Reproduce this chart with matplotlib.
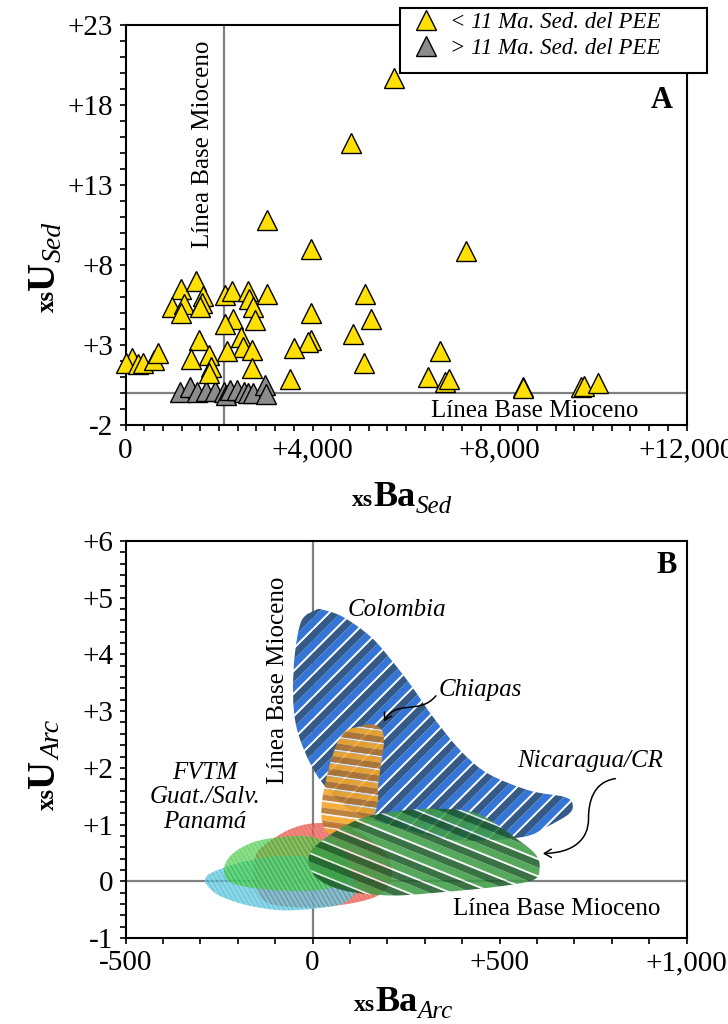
import numpy as np
import matplotlib
matplotlib.use('Agg')
import matplotlib.pyplot as plt
from matplotlib.path import Path
from matplotlib.patches import PathPatch, FancyArrowPatch, Rectangle
from matplotlib.collections import PolyCollection
from matplotlib.lines import Line2D
from matplotlib.transforms import IdentityTransform

plt.rcParams['font.family'] = ['Liberation Serif', 'DejaVu Serif']

W, H = 728, 1024

# --- Panel A: excess Ba / U in sediments ---
young_ba = [5740, 4820, 3030, 3970, 7280, 5120, 3020, 3960, 5260, 4870, 3960, 3910,
            3600, 5100, 3520, 6720, 6460, 6840, 6910, 8510, 8510, 9740, 9800, 10100,
            130, 0, 270, 380, 600, 700, 1190, 1510, 990, 1250, 1190, 1660, 1630, 1590,
            2130, 2270, 2610, 2650, 2720, 2310, 2130, 2760, 1570, 2470, 2520, 2700,
            2180, 1400, 1790, 1820, 1790, 2700]
young_u = [19.7, 15.6, 10.8, 9.0, 8.9, 6.2, 6.2, 5.0, 4.6, 3.7, 3.3, 3.2,
           2.8, 1.9, 0.9, 2.6, 1.0, 0.7, 0.85, 0.4, 0.3, 0.35, 0.45, 0.65,
           2.2, 1.9, 1.8, 1.9, 2.05, 2.5, 6.5, 7.0, 5.4, 5.55, 5.0, 6.05, 5.6, 5.4,
           6.1, 6.35, 6.35, 5.9, 5.4, 4.65, 4.3, 4.55, 3.3, 3.5, 2.85, 2.7,
           2.65, 2.1, 2.35, 1.6, 1.25, 1.55]
old_ba = [1170, 1390, 1520, 1720, 1910, 2110, 2160, 2240, 2380, 2530, 2630, 2730, 2980, 3000]
old_u = [0.08, 0.38, 0.08, 0.14, 0.14, 0.08, -0.13, 0.19, 0.19, 0.08, -0.02, -0.02, 0.52, -0.05]

baseline_ba_sed = 2100
baseline_u_sed = 0

# --- Panel B: arc fields (outline points, xsBa / xsU) ---
colombia_ba = [8, -29, -47, -52, -43, -10, 36, 119, 257, 395, 561, 626, 686, 695, 672,
               580, 469, 395, 322, 266, 211, 156, 82, 26]
colombia_u = [4.78, 4.6, 4.02, 3.31, 2.72, 2.13, 1.66, 1.19, 0.9, 0.72, 0.78, 0.96, 1.19,
              1.37, 1.49, 1.6, 1.9, 2.31, 2.9, 3.43, 3.9, 4.31, 4.66, 4.79]
chiapas_ba = [119, 156, 183, 191, 185, 176, 174, 156, 100, 45, 25, 26, 36, 49, 68, 89]
chiapas_u = [2.72, 2.77, 2.69, 2.49, 2.13, 1.72, 1.37, 1.08, 0.9, 0.84, 1.08, 1.43, 1.78,
             2.13, 2.46, 2.65]
panama_ba = [-130, -66, -1, 73, 146, 202, 211, 183, 119, 26, -66, -130, -158, -153]
panama_u = [0.63, 0.9, 1.02, 0.99, 0.78, 0.43, 0.08, -0.22, -0.37, -0.45, -0.45, -0.34,
            0.02, 0.43]
fvtm_ba = [-287, -273, -204, -112, -20, 63, 109, 119, 82, 8, -84, -176, -250, -282]
fvtm_u = [0.02, 0.14, 0.31, 0.43, 0.43, 0.25, 0.05, -0.16, -0.39, -0.48, -0.51, -0.42,
          -0.25, -0.07]
guat_ba = [-236, -213, -158, -84, -1, 82, 100, 82, 8, -84, -176, -227]
guat_u = [0.25, 0.49, 0.69, 0.78, 0.78, 0.55, 0.25, -0.04, -0.16, -0.16, -0.1, 0.02]
nica_ba = [-10, 26, 119, 211, 322, 442, 552, 598, 607, 589, 488, 350, 211, 82, 8]
nica_u = [0.43, 0.72, 1.08, 1.22, 1.28, 1.19, 0.72, 0.46, 0.22, 0.02, -0.1, -0.19, -0.25,
          -0.16, 0.08]

baseline_ba_arc = 0
baseline_u_arc = 0


def sign_fmt(v):
    if v == 0:
        return '0'
    s = f'{abs(v):,.0f}'
    return '+' + s if v > 0 else '-' + s


def smooth_closed(xs, ys):
    # closed Catmull-Rom outline written as cubic Bezier segments
    pts = np.column_stack([xs, ys]).astype(float)
    n = len(pts)
    verts = [pts[0]]
    codes = [Path.MOVETO]
    for i in range(n):
        p0, p1, p2, p3 = pts[i - 1], pts[i], pts[(i + 1) % n], pts[(i + 2) % n]
        verts += [p1 + (p2 - p0) / 6, p2 - (p3 - p1) / 6, p2]
        codes += [Path.CURVE4] * 3
    verts.append(pts[0])
    codes.append(Path.CLOSEPOLY)
    return Path(verts, codes)


def striped_region(ax, xs, ys, angle, period, bands, alpha=1.0, z=2):
    path = smooth_closed(xs, ys)
    clip = PathPatch(path, fill=False, lw=0, transform=ax.transData)
    ax.add_patch(clip)
    pts = ax.transData.transform(path.vertices)
    a = np.deg2rad(angle)
    d = np.array([np.cos(a), np.sin(a)])
    nv = np.array([-np.sin(a), np.cos(a)])
    pn, pd = pts @ nv, pts @ d
    dl, dh = pd.min() - 20, pd.max() + 20
    for off, width, color in bands:
        polys = []
        for k in np.arange(pn.min() - period, pn.max() + period, period):
            lo, hi = k + off, k + off + width
            polys.append([d * dl + nv * lo, d * dh + nv * lo,
                          d * dh + nv * hi, d * dl + nv * hi])
        pc = PolyCollection(polys, facecolors=color, edgecolors='none',
                            transform=IdentityTransform(), alpha=alpha, zorder=z)
        pc.set_clip_path(clip)
        ax.add_collection(pc, autolim=False)


def chain_label(fig, x, y, parts, rotation=0):
    # parts: (text, size, weight, style, baseline drop in px); x, y in px from top-left
    r = fig.canvas.get_renderer()
    pos = 0.0
    for s, size, weight, style, drop in parts:
        if rotation:
            px, py = x + drop, y - pos
        else:
            px, py = x + pos, y + drop
        t = fig.text(px / W, 1 - py / H, s, fontsize=size, fontweight=weight,
                     fontstyle=style, ha='left', va='baseline', rotation=rotation,
                     rotation_mode='anchor')
        ext = t.get_window_extent(r)
        pos += ext.height if rotation else ext.width


def style_axes(ax):
    for sp in ax.spines.values():
        sp.set_linewidth(1.5)
    ax.tick_params(which='both', direction='out', length=4, width=1.2,
                   labelsize=21, pad=5)
    ax.tick_params(which='both', top=False, right=False)


fig = plt.figure(figsize=(W / 100, H / 100), dpi=100)

# ---------- Panel A ----------
ax1 = fig.add_axes([125.5 / W, 1 - 425 / H, 561 / W, 400 / H])
ax1.set_xlim(0, 12000)
ax1.set_ylim(-2, 23)
style_axes(ax1)
ax1.set_xticks([0, 4000, 8000, 12000])
ax1.set_xticklabels([sign_fmt(v) for v in [0, 4000, 8000, 12000]])
ax1.set_xticks(np.arange(0, 12001, 400), minor=True)
ax1.set_yticks([-2, 3, 8, 13, 18, 23])
ax1.set_yticklabels([sign_fmt(v) for v in [-2, 3, 8, 13, 18, 23]])
ax1.set_yticks(np.arange(-2, 24, 1), minor=True)

ax1.axvline(baseline_ba_sed, color='#808080', lw=1.6, zorder=1)
ax1.axhline(baseline_u_sed, color='#808080', lw=1.6, zorder=1)
ax1.plot(old_ba, old_u, ls='none', marker='^', ms=15, mfc='#8c8c8c', mec='black',
         mew=1, zorder=3, clip_on=False)
ax1.plot(young_ba, young_u, ls='none', marker='^', ms=15, mfc='#ffe000', mec='black',
         mew=1, zorder=4, clip_on=False)

ax1.text(1658, 15.56, 'Línea Base Mioceno', rotation=90, fontsize=18,
         ha='center', va='center')
ax1.text(8760, -1.1, 'Línea Base Mioceno', fontsize=18, ha='center', va='center')
ax1.text(11480, 18.3, 'A', fontsize=22, fontweight='bold', ha='center', va='center')

# legend frame is wider than its contents, so the box is drawn separately
ax1.add_patch(Rectangle((400 / W, 1 - 73 / H), 307 / W, 65 / H, transform=fig.transFigure,
                        facecolor='white', edgecolor='black', lw=1.5, clip_on=False,
                        zorder=4.9))
handles = [Line2D([], [], ls='none', marker='^', ms=15, mfc='#ffe000', mec='black', mew=1),
           Line2D([], [], ls='none', marker='^', ms=15, mfc='#8c8c8c', mec='black', mew=1)]
leg = ax1.legend(handles, ['< 11 Ma. Sed. del PEE', '> 11 Ma. Sed. del PEE'],
                 loc='upper left', bbox_to_anchor=(412 / W, 1 - 10 / H),
                 bbox_transform=fig.transFigure, frameon=False, borderaxespad=0,
                 prop={'family': 'Liberation Serif', 'style': 'italic', 'size': 16.5},
                 handlelength=1.0, handletextpad=0.55, borderpad=0.1,
                 labelspacing=0.2)
leg.set_zorder(5)

# ---------- Panel B ----------
ax2 = fig.add_axes([125.5 / W, 1 - 938 / H, 561 / W, 397 / H])
ax2.set_xlim(-500, 1000)
ax2.set_ylim(-1, 6)
style_axes(ax2)
ax2.set_xticks([-500, 0, 500, 1000])
ax2.set_xticklabels([sign_fmt(v) for v in [-500, 0, 500, 1000]])
ax2.set_xticks(np.arange(-500, 1001, 100), minor=True)
ax2.set_yticks(np.arange(-1, 7, 1))
ax2.set_yticklabels([sign_fmt(v) for v in range(-1, 7)])
ax2.set_yticks(np.arange(-1, 6.01, 0.2), minor=True)

ax2.axvline(baseline_ba_arc, color='#808080', lw=1.6, zorder=1)
ax2.axhline(baseline_u_arc, color='#808080', lw=1.6, zorder=1)

striped_region(ax2, colombia_ba, colombia_u, 45, 16.0,
               [(0, 7.2, '#365a88'), (7.2, 1.8, 'white'), (9.0, 7.0, '#3475d6')], z=2)
striped_region(ax2, panama_ba, panama_u, -60, 4.0,
               [(0, 2.8, '#f26b5e'), (2.8, 1.2, '#d24a40')], alpha=0.85, z=3)
striped_region(ax2, fvtm_ba, fvtm_u, -60, 4.0,
               [(0, 2.8, '#66cfe6'), (2.8, 1.2, '#3ea6c0')], alpha=0.8, z=4)
striped_region(ax2, guat_ba, guat_u, -60, 4.0,
               [(0, 2.8, '#52d852'), (2.8, 1.2, '#30b030')], alpha=0.72, z=5)
striped_region(ax2, chiapas_ba, chiapas_u, -8, 13.0,
               [(0, 5.8, '#f5a62a'), (5.8, 1.6, '#f4f0e8'), (7.4, 5.6, '#b8762c')],
               alpha=0.9, z=6)
striped_region(ax2, nica_ba, nica_u, -22, 16.0,
               [(0, 7.0, '#1e5e2b'), (7.0, 1.8, '#f2f2f2'), (8.8, 7.2, '#3f9c47')],
               alpha=0.88, z=7)

ax2.text(-93, 3.54, 'Línea Base Mioceno', rotation=90, fontsize=18,
         ha='center', va='center', zorder=9)
ax2.text(654, -0.48, 'Línea Base Mioceno', fontsize=18, ha='center', va='center', zorder=9)
ax2.text(226, 4.78, 'Colombia', fontsize=18, style='italic', ha='center', va='center')
ax2.text(448, 3.37, 'Chiapas', fontsize=18, style='italic', ha='center', va='center')
ax2.text(742, 2.12, 'Nicaragua/CR', fontsize=18, style='italic', ha='center', va='center')
ax2.text(-288, 1.48, 'FVTM\nGuat./Salv.\nPanamá', fontsize=18, style='italic',
         ha='center', va='center', multialignment='center', linespacing=1.15)
ax2.text(948, 5.57, 'B', fontsize=22, fontweight='bold', ha='center', va='center')

chiapas_arrow = Path([(330, 3.27), (285, 2.92), (225, 3.22), (191, 2.82)],
                     [Path.MOVETO, Path.CURVE4, Path.CURVE4, Path.CURVE4])
nica_arrow = Path([(810, 1.81), (750, 1.75), (738, 1.4), (738, 1.1),
                   (738, 0.75), (700, 0.5), (616, 0.49)],
                  [Path.MOVETO, Path.CURVE4, Path.CURVE4, Path.CURVE4,
                   Path.CURVE4, Path.CURVE4, Path.CURVE4])
for p in (chiapas_arrow, nica_arrow):
    ax2.add_patch(FancyArrowPatch(path=p, arrowstyle='->,head_length=5,head_width=3',
                                  lw=1.1, color='black', zorder=10))

# axis labels built from pieces (bold xs, larger symbol, italic subscript)
chain_label(fig, 352, 506, [('xs', 17, 'bold', 'normal', 0), ('Ba', 26, 'bold', 'normal', 0),
                            ('Sed', 18, 'normal', 'italic', 7)])
chain_label(fig, 354, 1011, [('xs', 17, 'bold', 'normal', 0), ('Ba', 26, 'bold', 'normal', 0),
                             ('Arc', 18, 'normal', 'italic', 7)])
chain_label(fig, 54, 312, [('xs', 18, 'bold', 'normal', 0), ('U', 28, 'bold', 'normal', 0),
                           ('Sed', 20, 'normal', 'italic', 7)], rotation=90)
chain_label(fig, 54, 810, [('xs', 18, 'bold', 'normal', 0), ('U', 28, 'bold', 'normal', 0),
                           ('Arc', 20, 'normal', 'italic', 7)], rotation=90)

fig.savefig('out.png', dpi=100)
